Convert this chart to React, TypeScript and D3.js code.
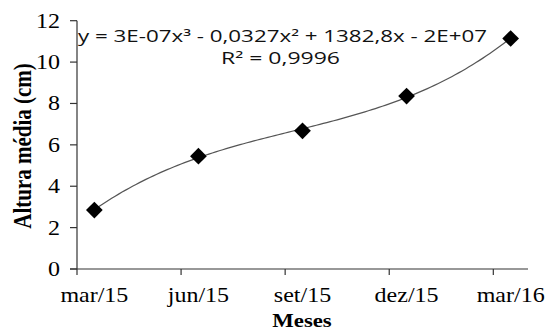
import React from 'react';
import * as d3 from 'd3';

// months since mar/15
const months = [0, 3, 6, 9, 12];
const alturas = [2.85, 5.45, 6.68, 8.36, 11.14];
const monthLabels = ['mar/15', 'jun/15', 'set/15', 'dez/15', 'mar/16'];
const yTicks = [0, 2, 4, 6, 8, 10, 12];
const xTickPos = [-0.5, 2.5, 5.5, 8.5, 11.5];
const equation = 'y = 3E-07x³ - 0,0327x² + 1382,8x - 2E+07';
const r2Text = 'R² = 0,9996';

const W = 550;
const H = 331;

// least squares cubic (the excel trendline)
function cubicFit(xs: number[], ys: number[]) {
  const n = 4;
  const A: number[][] = [];
  for (let i = 0; i < n; i++) {
    A.push([]);
    for (let j = 0; j < n; j++) A[i].push(d3.sum(xs, (x) => Math.pow(x, i + j)));
    A[i].push(d3.sum(xs, (x, k) => Math.pow(x, i) * ys[k]));
  }
  for (let c = 0; c < n; c++) {
    for (let r = c + 1; r < n; r++) {
      const f = A[r][c] / A[c][c];
      for (let k = c; k <= n; k++) A[r][k] -= f * A[c][k];
    }
  }
  const coef = new Array(n).fill(0);
  for (let r = n - 1; r >= 0; r--) {
    let s = A[r][n];
    for (let k = r + 1; k < n; k++) s -= A[r][k] * coef[k];
    coef[r] = s / A[r][r];
  }
  return (x: number) => coef[0] + coef[1] * x + coef[2] * x * x + coef[3] * x * x * x;
}

export default function App() {
  const x = d3.scaleLinear().domain([-0.5, 12.5]).range([77, 528]);
  const y = d3.scaleLinear().domain([0, 12]).range([269, 20.7]);

  const fit = cubicFit(months, alturas);
  const curvePts = d3.range(0, 12.01, 0.1).map((m) => [x(m), y(fit(m))] as [number, number]);
  const trend = d3.line()(curvePts) || '';
  const diamond = d3.symbol(d3.symbolSquare, 140)() || '';

  const serif = '"Liberation Serif", "Times New Roman", serif';
  const sans = '"Open Sans", "Liberation Sans", sans-serif';

  return (
    <svg width={W} height={H} style={{ position: 'absolute', left: 0, top: 0, background: '#fff' }}>
      {/* axes */}
      <line x1={x(-0.5)} x2={x(-0.5)} y1={y(12)} y2={y(0)} stroke="#333" strokeWidth={1.2} />
      <line x1={70} x2={x(12.5)} y1={y(0)} y2={y(0)} stroke="#333" strokeWidth={1.2} />
      {yTicks.map((t) => (
        <g key={t}>
          <line x1={70} x2={77} y1={y(t)} y2={y(t)} stroke="#333" strokeWidth={1.2} />
          <text
            transform={`translate(60,${y(t) + 7}) scale(1.2,1)`}
            textAnchor="end"
            fontFamily={serif}
            fontSize={20}
          >
            {t}
          </text>
        </g>
      ))}
      {xTickPos.map((t) => (
        <line key={t} x1={x(t)} x2={x(t)} y1={y(0)} y2={y(0) + 6} stroke="#333" strokeWidth={1.2} />
      ))}
      {months.map((m, i) => (
        <text
          key={m}
          transform={`translate(${x(m)},302) scale(1.2,1)`}
          textAnchor="middle"
          fontFamily={serif}
          fontSize={20}
        >
          {monthLabels[i]}
        </text>
      ))}

      {/* axis titles */}
      <text
        transform="translate(302,327) scale(1.2,1)"
        textAnchor="middle"
        fontFamily={serif}
        fontSize={19}
        fontWeight="bold"
      >
        Meses
      </text>
      <text
        transform="translate(31,146) scale(1.2,1) rotate(-90)"
        textAnchor="middle"
        fontFamily={serif}
        fontSize={21}
        fontWeight="bold"
      >
        Altura média (cm)
      </text>

      {/* trend line */}
      <path d={trend} fill="none" stroke="#555" strokeWidth={1.2} />

      {months.map((m, i) => (
        <path key={m} d={diamond} transform={`translate(${x(m)},${y(alturas[i])}) rotate(45)`} fill="#000" />
      ))}

      {/* equation */}
      <text x={78} y={42} fontFamily={sans} fontSize={15.5} fill="#111" textLength={409} lengthAdjust="spacingAndGlyphs">
        {equation}
      </text>
      <text x={221} y={64} fontFamily={sans} fontSize={15.5} fill="#111" textLength={119} lengthAdjust="spacingAndGlyphs">
        {r2Text}
      </text>
    </svg>
  );
}
